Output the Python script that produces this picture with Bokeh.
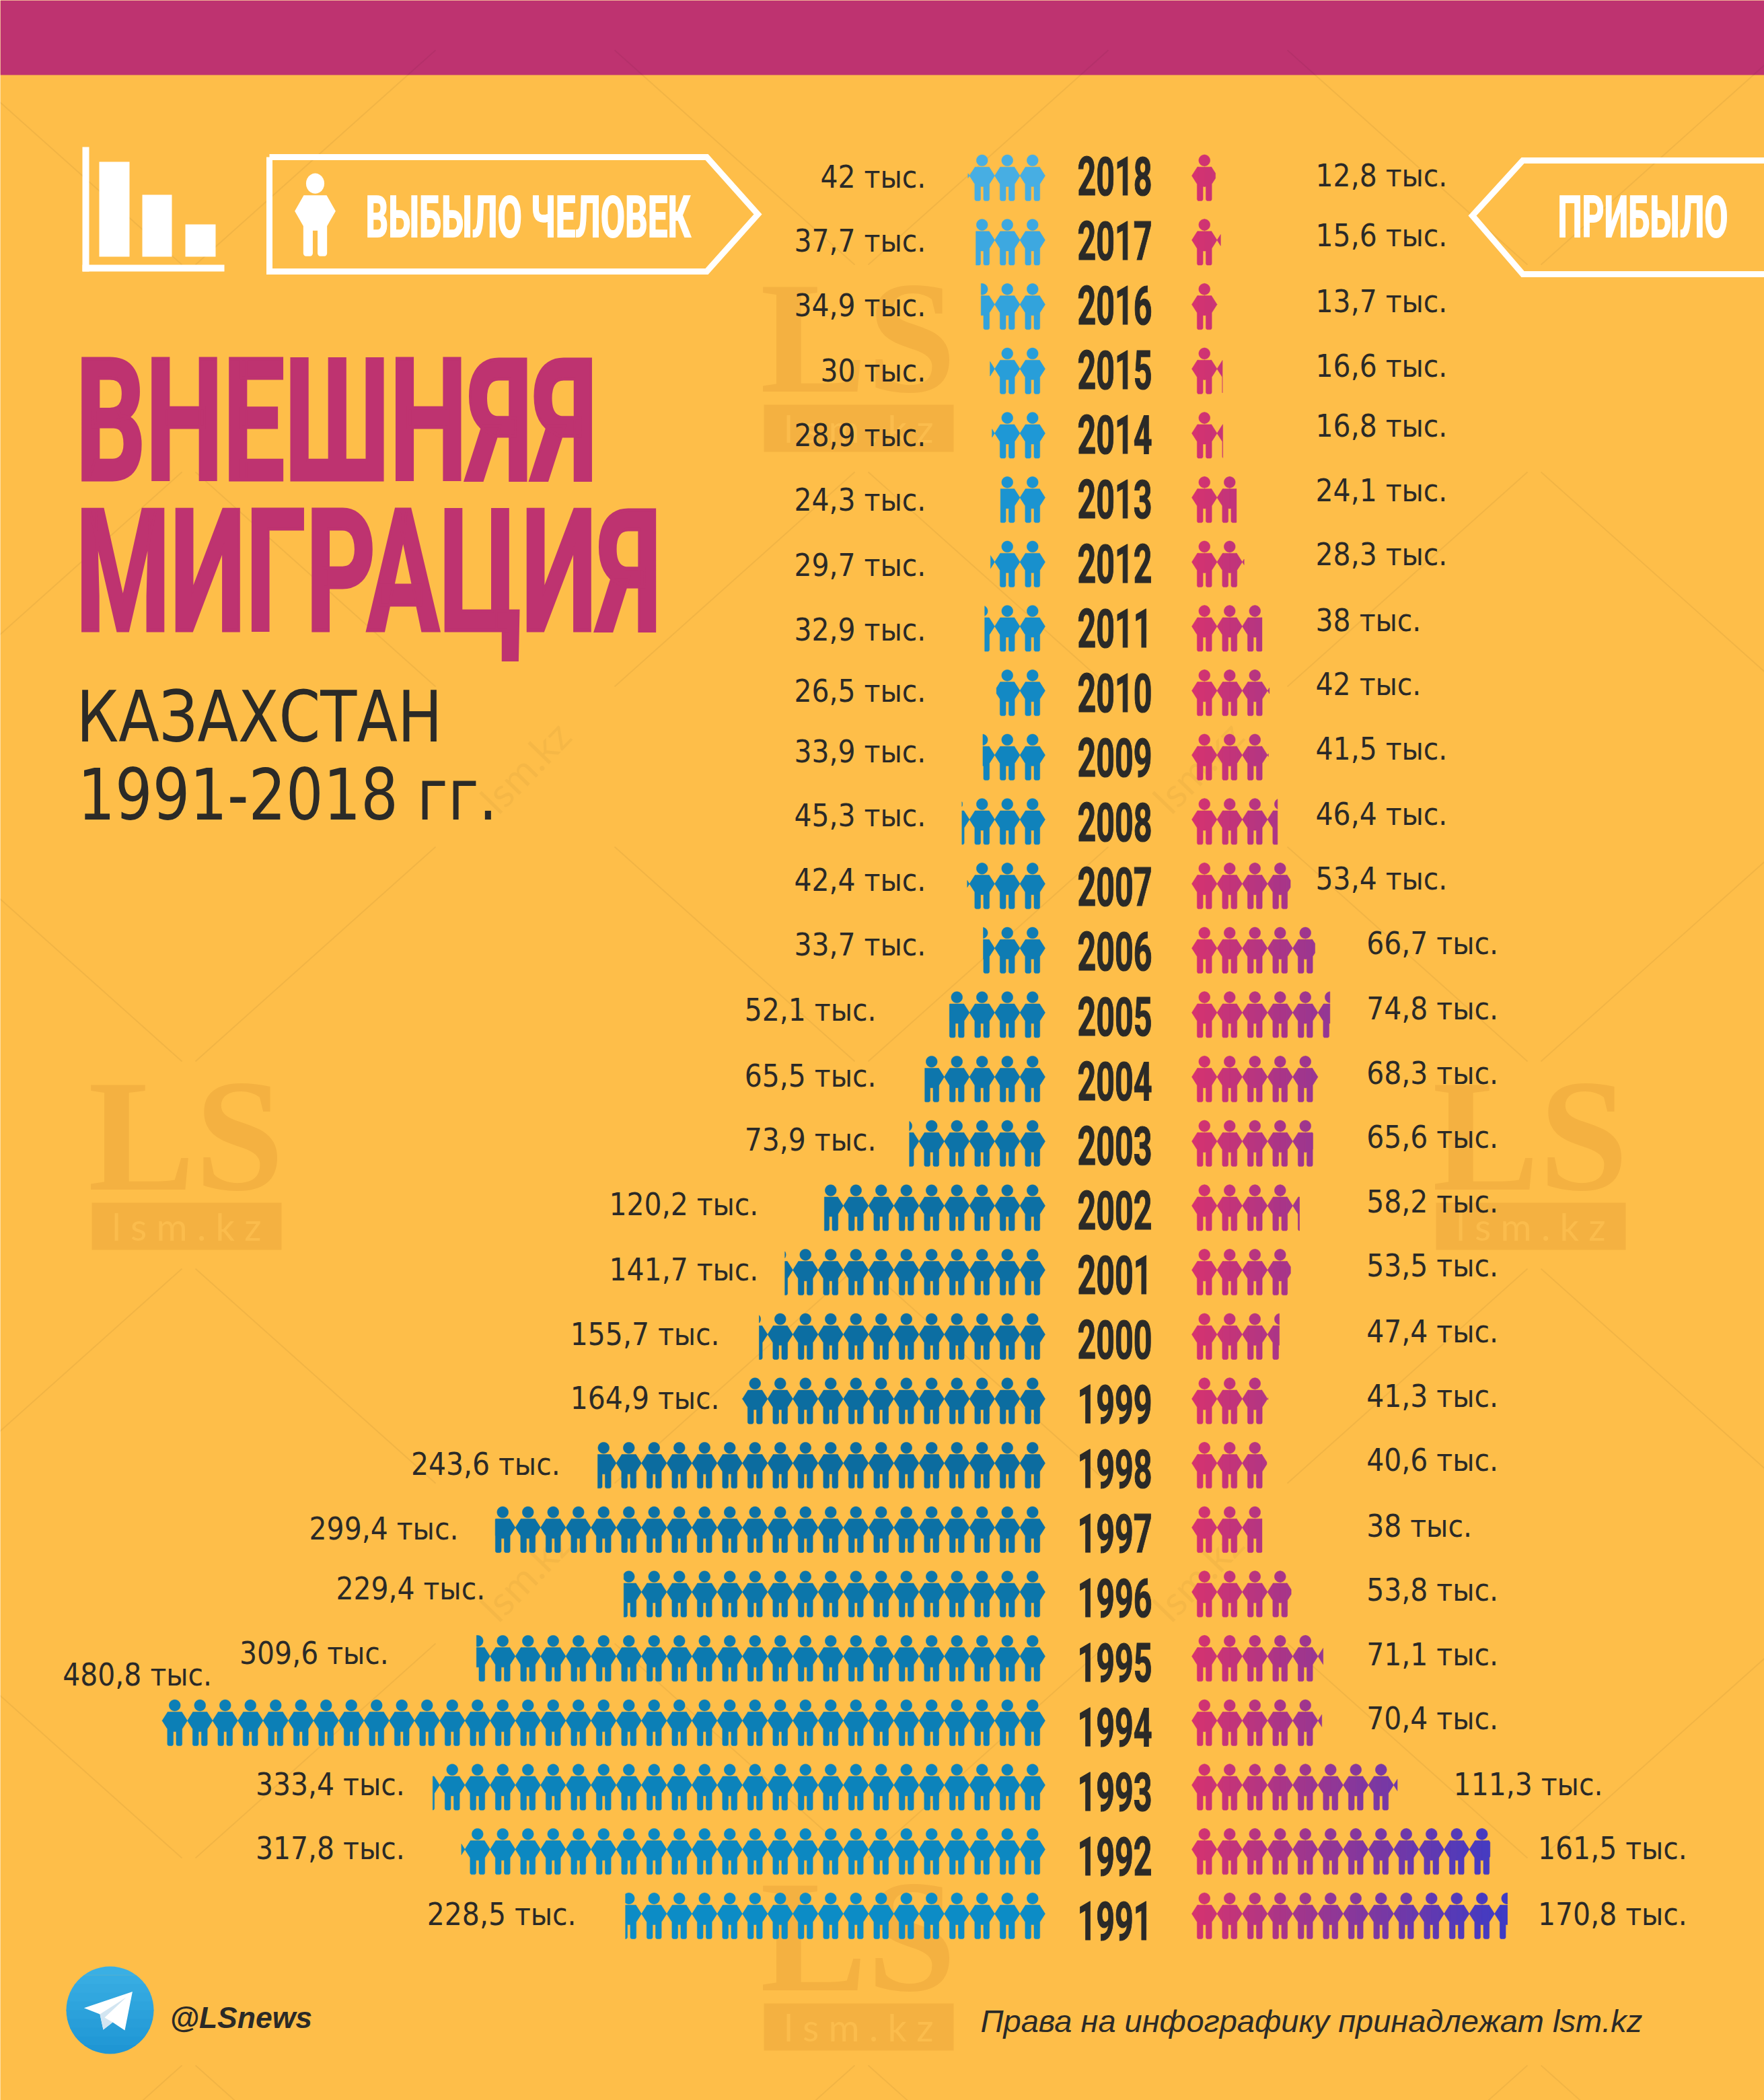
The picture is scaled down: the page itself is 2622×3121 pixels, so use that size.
import math
from bokeh.embed import file_html
from bokeh.resources import INLINE
from bokeh.plotting import figure
from bokeh.io import curdoc
from bokeh.models import Range1d, CustomJS

# ---------- data ----------
years = list(range(2018, 1990, -1))
departed = [42, 37.7, 34.9, 30, 28.9, 24.3, 29.7, 32.9, 26.5, 33.9, 45.3, 42.4, 33.7, 52.1,
            65.5, 73.9, 120.2, 141.7, 155.7, 164.9, 243.6, 299.4, 229.4, 309.6, 480.8, 333.4, 317.8, 228.5]
arrived = [12.8, 15.6, 13.7, 16.6, 16.8, 24.1, 28.3, 38, 42, 41.5, 46.4, 53.4, 66.7, 74.8,
           68.3, 65.6, 58.2, 53.5, 47.4, 41.3, 40.6, 38, 53.8, 71.1, 70.4, 111.3, 161.5, 170.8]
title_lines = ["ВНЕШНЯЯ", "МИГРАЦИЯ"]
sub_lines = ["КАЗАХСТАН", "1991-2018 гг."]
head_left, head_right = "ВЫБЫЛО ЧЕЛОВЕК", "ПРИБЫЛО"

# ---------- layout (reference pixels) ----------
S = 2622 / 1317
left_y = [132,180,228,277,325,373,422,470,516,561,609,657,705,754,803,851,899,948,996,1044,1093,1141,1186,1234,1250,1332,1380,1429]
left_r = [691]*13 + [654]*3 + [566]*2 + [537]*2 + [418,342,362,290,158,302,302,430]
right_y = [131,176,225,273,318,366,414,463,511,559,608,656,704,753,801,849,897,945,994,1042,1090,1139,1187,1235,1283,1332,1380,1429]
right_l = [982]*12 + [1020]*13 + [1085,1148,1148]

BG, BANNER, INK = "#FEBE49", "#BE3370", "#2B2A27"
BODY = "DejaVu Sans Condensed"
HEAVY = "Roboto"
PITCH, HALF = 37.5, 18.75
X_L, X_R = 1553, 1771
K_L, K_R = 2.73, 2.745
ROW0, ROWH = 230, 95.67

p = figure(width=2622, height=3121, x_range=Range1d(0, 2622), y_range=Range1d(3121, 0),
           toolbar_location=None, output_backend="svg", min_border=0,
           background_fill_color=BG, border_fill_color=BG, outline_line_color=None)
p.axis.visible = False
p.grid.visible = False


def txt(x, y, s, size, color=INK, font=BODY, style="normal", align="left", angle=0, alpha=1.0, baseline="middle"):
    p.text([x], [y], text=[s], text_font={"value": font}, text_font_size={"value": f"{size}px"},
           text_font_style={"value": style}, text_color=color, text_align=align,
           text_baseline=baseline, angle=angle, text_alpha=alpha)


# ---------- backdrop ----------
p.quad(left=[0], right=[2622], top=[0], bottom=[111], fill_color=BANNER, line_color=None)

xs, ys = [], []
for nx in (-220, 780, 1780, 2780):
    for ny in (-45, 1139, 2323, 3507):
        for sx in (-1, 1):
            for sy in (-1, 1):
                xs.append([nx + sx * 133, nx + sx * 490])
                ys.append([ny + sy * 119, ny + sy * 438])
p.multi_line(xs, ys, line_color="#000000", line_alpha=0.05, line_width=2)
for nx, ny in ((780, 1139), (1780, 1139), (780, 2340), (1780, 2340)):
    txt(nx, ny, "lsm.kz", 60, color="#000000", font="Lato", align="center", angle=0.8, alpha=0.035)

WM = "#F4B141"
for dx, dy in ((0, 0), (1998, 0), (999, -1186), (999, 1190)):
    txt(276 + dx, 1687 + dy, "LS", 238, color=WM, font="Liberation Serif", style="bold", align="center")
    p.quad(left=[136 + dx], right=[418 + dx], top=[1787 + dy], bottom=[1857 + dy], fill_color=WM, line_color=None)
    txt(277 + dx, 1822 + dy, "l s m . k z", 56, color="#FBBC4C", font="Lato", align="center")


# ---------- person pictogram ----------
def clip(poly, lo, hi):
    for bound, sign in ((lo, 1), (hi, -1)):
        if bound is None or not poly:
            continue
        out = []
        for i, (ax, ay) in enumerate(poly):
            bx, by = poly[(i + 1) % len(poly)]
            ina, inb = sign * (ax - bound) >= 0, sign * (bx - bound) >= 0
            if ina:
                out.append((ax, ay))
            if ina != inb:
                t = (bound - ax) / (bx - ax)
                out.append((bound, ay + t * (by - ay)))
        poly = out
    return poly


def arc(cx, cy, r, a0, a1, n=4):
    return [(cx + r * math.cos(math.radians(a0 + (a1 - a0) * i / n)),
             cy + r * math.sin(math.radians(a0 + (a1 - a0) * i / n))) for i in range(n + 1)]


HEAD = arc(0, 7.9, 8.4, 0, 345, 23)
BODYP = [(-10.5, 17.7), (10.5, 17.7), (18.75, 30.7), (10.9, 43)]
BODYP += arc(8.4, 65.4, 2.5, 0, 90) + arc(4.7, 65.4, 2.5, 90, 180) + [(2.2, 46.8), (-2.2, 46.8)]
BODYP += arc(-4.7, 65.4, 2.5, 0, 90) + arc(-8.4, 65.4, 2.5, 90, 180)
BODYP += [(-10.9, 43), (-18.75, 30.7)]


def person(cx, top, lo=None, hi=None, scale=1.0, xscale=1.0):
    res = []
    for shape in (HEAD, BODYP):
        pts = [(cx + x * scale * xscale, top + y * scale) for x, y in shape]
        pts = clip(pts, lo, hi)
        if len(pts) >= 3:
            res.append(pts)
    return res


def mix(c0, c1, t):
    t = max(0, min(1, t))
    return "#%02x%02x%02x" % tuple(round(a + (b - a) * t) for a, b in zip(c0, c1))


BLUES = [(0, (0x47, 0xAE, 0xE3)), (4, (0x1E, 0x98, 0xD6)), (9, (0x10, 0x85, 0xBF)),
         (16, (0x0D, 0x70, 0xA4)), (20, (0x0C, 0x6C, 0x9F)), (24, (0x0C, 0x7F, 0xB6)), (27, (0x0C, 0x8C, 0xC6))]


def blue(i):
    for (a, ca), (b, cb) in zip(BLUES, BLUES[1:]):
        if a <= i <= b:
            return mix(ca, cb, (i - a) / (b - a))


PINK, VIOLET = (0xD6, 0x33, 0x6F), (0x3F, 0x3B, 0xC4)
gx, gy, gc = [], [], []
for i, (d, a) in enumerate(zip(departed, arrived)):
    top = ROW0 + i * ROWH
    lim = X_L - d * K_L
    k = 0
    while X_L - k * PITCH > lim:
        cx = X_L - HALF - k * PITCH
        for pts in person(cx, top, lo=lim):
            gx.append([q[0] for q in pts]); gy.append([q[1] for q in pts]); gc.append(blue(i))
        k += 1
    lim = X_R + a * K_R
    k = 0
    while X_R + k * PITCH < lim:
        cx = X_R + HALF + k * PITCH
        for s in range(4):
            lo = cx - 19 + s * 9.5
            hi = lo + 9.5 + (0.5 if s < 3 else 0)
            col = mix(PINK, VIOLET, ((lo + 4.75) - X_R) / 460)
            for pts in person(cx, top, lo=lo, hi=min(hi, lim)):
                gx.append([q[0] for q in pts]); gy.append([q[1] for q in pts]); gc.append(col)
        k += 1
p.patches(gx, gy, fill_color=gc, line_color=gc, line_width=0.5)

# ---------- labels per row; "fits" squeezes condensed display type to its measured width ----------
fits = {}
for i, y in enumerate(years):
    txt(1712, 261 + i * 96.04, str(y), 80, font=HEAVY, style="bold", align="right")
    fits[str(y)] = {"w": 111, "a": "r", "s": 1.2}
    txt(left_r[i] * S, left_y[i] * S, f"{departed[i]:g}".replace(".", ",") + " тыс.", 45.5, align="right")
    txt(right_l[i] * S, right_y[i] * S, f"{arrived[i]:g}".replace(".", ",") + " тыс.", 45.5)

# ---------- titles ----------
txt(112, 627, title_lines[0], 252, color=BANNER, font=HEAVY, style="bold")
txt(112, 851, title_lines[1], 252, color=BANNER, font=HEAVY, style="bold")
fits[title_lines[0]] = {"w": 775, "a": "l", "s": 5}
fits[title_lines[1]] = {"w": 870, "a": "l", "s": 5}
txt(113, 1065, sub_lines[0], 106, font="DejaVu Sans")
txt(115, 1181, sub_lines[1], 106, font="DejaVu Sans")
fits[sub_lines[0]] = {"w": 544, "a": "l", "s": 0}
fits[sub_lines[1]] = {"w": 624, "a": "l", "s": 0}

# ---------- icons and arrows ----------
W = "#FFFFFF"
p.quad(left=[122, 122, 147, 211, 275], right=[132, 333, 192, 255, 320],
       top=[218, 393, 240, 289, 333], bottom=[403, 403, 381, 381, 381], fill_color=W, line_color=None)
p.line([400, 1050, 1126, 1050, 400, 400], [233, 233, 318, 403, 403, 233], line_color=W, line_width=9, line_join="miter")
p.line([2622, 2263, 2188, 2263, 2622], [238, 238, 320, 407, 407], line_color=W, line_width=9, line_join="miter")
ix, iy = [], []
for pts in person(468, 258, scale=1.8, xscale=0.9):
    ix.append([q[0] for q in pts]); iy.append([q[1] for q in pts])
p.patches(ix, iy, fill_color=W, line_color=None)
txt(543, 322, head_left, 86, color=W, font=HEAVY, style="bold")
txt(2315, 322, head_right, 86, color=W, font=HEAVY, style="bold")
fits[head_left] = {"w": 484, "a": "l", "s": 2}
fits[head_right] = {"w": 253, "a": "l", "s": 2}

# ---------- footer ----------
CIRC = arc(0, 0, 65, 0, 354, 59)
bx, by, bc = [], [], []
for b in range(10):
    lo, hi = -65 + b * 13, -65 + (b + 1) * 13.2
    band = clip([(y, x) for x, y in CIRC], lo, hi)
    bx.append([163 + q[1] for q in band]); by.append([2987 + q[0] for q in band])
    bc.append(mix((0x3A, 0xAF, 0xE4), (0x1F, 0x96, 0xD4), b / 9))
p.patches(bx, by, fill_color=bc, line_color=None)
p.patches([[196.4, 124.4, 148, 153, 167, 185]],
          [[2959.5, 2983.8, 2993, 3016, 3005, 3017]], fill_color=W, line_color=None)
p.patches([[148, 153, 167, 155, 187]],
          [[2993, 3016, 3005, 2998, 2968]], fill_color="#D2E5F1", line_color=None)
txt(252, 2998, "@LSnews", 44.5, font="Liberation Sans", style="bold italic")
txt(1457, 3003, "Права на инфографику принадлежат lsm.kz", 47, font="Liberation Sans", style="italic")

# ---------- condense display type after the svg is drawn ----------
squeeze = CustomJS(args=dict(fits=fits), code="""
function walk(root, out) {
  root.querySelectorAll('*').forEach(el => {
    if (el.tagName && el.tagName.toLowerCase() === 'text') out.push(el);
    if (el.shadowRoot) walk(el.shadowRoot, out);
  });
}
function run() {
  const ts = []; walk(document, ts);
  const map = (fits instanceof Map) ? fits : new Map(Object.entries(fits));
  for (const t of ts) {
    const f0 = map.get(t.textContent);
    if (!f0 || t.dataset.fit) continue;
    const f = (f0 instanceof Map) ? Object.fromEntries(f0) : f0;
    const b = t.getBBox();
    if (!b.width) continue;
    const k = f.w / b.width;
    const ax = f.a === 'r' ? b.x + b.width : b.x;
    const ay = b.y + b.height / 2;
    const base = t.getAttribute('transform') || '';
    t.setAttribute('transform', `${base} translate(${ax} ${ay}) scale(${k} 1) translate(${-ax} ${-ay})`);
    if (f.s) { t.setAttribute('stroke', t.getAttribute('fill')); t.setAttribute('stroke-width', f.s); }
    t.dataset.fit = '1';
  }
}
run(); setTimeout(run, 50); setTimeout(run, 300);
""")
doc = curdoc()
doc.add_root(p)
doc.js_on_event("document_ready", squeeze)

open("out.html", "w").write(file_html(p, INLINE))
